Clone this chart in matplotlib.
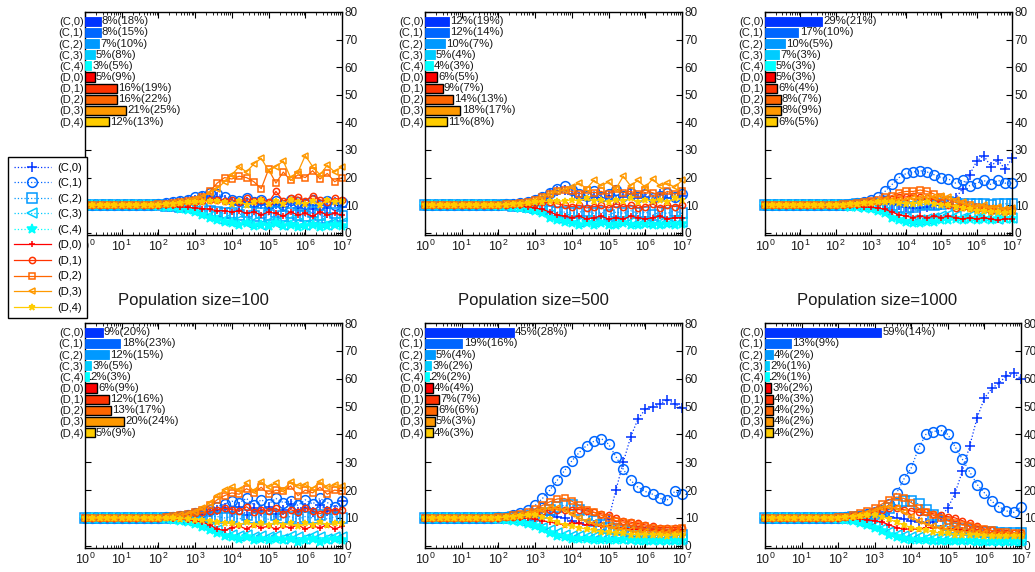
import numpy as np
import matplotlib
matplotlib.use("Agg")
import matplotlib.pyplot as plt
from matplotlib.lines import Line2D
from matplotlib.ticker import LogLocator, NullFormatter, MultipleLocator

plt.rcParams['font.family'] = ['Liberation Sans', 'DejaVu Sans']
plt.rcParams['mathtext.default'] = 'regular'

W, H = 1035, 572

# ---------------- data ----------------
STRATEGIES = ['(C,0)', '(C,1)', '(C,2)', '(C,3)', '(C,4)',
              '(D,0)', '(D,1)', '(D,2)', '(D,3)', '(D,4)']
COLORS = ['#0033ff', '#0066ff', '#0099ff', '#00ccff', '#00ffff',
          '#ff0000', '#ff3300', '#ff6600', '#ff9900', '#ffcc00']
MARKERS = ['+', 'o', 's', '<', '*', '+', 'o', 's', '<', '*']
TITLES = ['Population size=100', 'Population size=500', 'Population size=1000']

# generation exponents: 10^0 ... 10^7
LOG_GEN = np.linspace(0, 7, 36)

TOP_100 = [
    [10, 10, 10, 10, 10, 10, 10, 10, 10, 10, 10.3, 10.6, 10.9, 11.2, 11.6, 12.0, 12.8, 13.5, 13.0, 12.0, 11.0, 10.0, 11.0, 9.5, 10.5, 9.0, 10.5, 9.5, 11.0, 9.0, 10.0, 8.5, 10.0, 9.0, 11.0, 9.5],
    [10, 10, 10, 10, 10, 10, 10, 10, 10, 10, 10.3, 10.7, 11.0, 11.5, 12.0, 12.8, 13.5, 14.5, 14.0, 13.0, 12.0, 11.5, 12.5, 11.0, 12.0, 10.5, 11.5, 10.0, 12.0, 11.0, 10.5, 12.0, 10.0, 11.5, 10.0, 11.0],
    [10, 10, 10, 10, 10, 10, 10, 10, 10, 10, 10.0, 9.8, 9.6, 9.5, 9.2, 9.0, 8.5, 8.0, 7.5, 7.0, 7.0, 6.5, 7.5, 6.0, 7.0, 6.5, 7.5, 6.0, 7.0, 6.5, 6.0, 7.5, 6.5, 5.5, 7.0, 6.0],
    [10, 10, 10, 10, 10, 10, 10, 10, 10, 10, 9.8, 9.6, 9.4, 9.0, 8.5, 8.0, 7.0, 6.0, 5.0, 4.5, 4.0, 4.5, 3.5, 4.0, 3.0, 4.0, 3.5, 3.0, 4.5, 3.5, 3.0, 4.0, 3.5, 3.0, 4.0, 3.5],
    [10, 10, 10, 10, 10, 10, 10, 10, 10, 10, 9.7, 9.5, 9.2, 8.8, 8.3, 7.5, 6.5, 5.5, 4.5, 4.0, 3.5, 3.0, 3.5, 2.5, 3.0, 2.5, 3.5, 2.5, 3.0, 2.0, 2.5, 3.0, 2.0, 2.5, 3.0, 2.5],
    [10, 10, 10, 10, 10, 10, 10, 10, 10, 10, 10.0, 9.8, 9.6, 9.4, 9.2, 9.0, 8.8, 8.5, 8.0, 8.0, 7.5, 8.0, 7.0, 7.5, 6.5, 7.5, 7.0, 6.0, 7.5, 6.5, 7.0, 6.0, 7.5, 6.5, 7.0, 6.5],
    [10, 10, 10, 10, 10, 10, 10, 10, 10, 10, 10.2, 10.4, 10.6, 10.8, 11.0, 11.2, 11.5, 11.8, 12.0, 11.5, 12.0, 11.0, 12.5, 11.5, 12.0, 11.0, 15.0, 11.5, 12.5, 13.0, 11.5, 13.5, 12.0, 11.0, 12.5, 12.0],
    [10, 10, 10, 10, 10, 10, 10, 10, 10, 10, 10.3, 10.6, 10.9, 11.2, 11.6, 12.0, 13.0, 15.0, 18.0, 20.0, 19.5, 20.5, 20.0, 18.5, 16.0, 23.0, 18.0, 22.0, 19.0, 21.0, 20.0, 22.5, 19.5, 21.5, 18.5, 20.0],
    [10, 10, 10, 10, 10, 10, 10, 10, 10, 10, 10.3, 10.6, 10.9, 11.3, 11.7, 12.2, 13.0, 14.5, 16.0, 18.5, 21.0, 24.0, 22.0, 25.0, 27.0, 22.5, 24.0, 26.0, 20.0, 22.0, 28.0, 24.0, 21.0, 24.5, 22.0, 24.0],
    [10, 10, 10, 10, 10, 10, 10, 10, 10, 10, 10.2, 10.4, 10.6, 10.8, 11.0, 11.0, 11.2, 11.5, 11.5, 11.0, 10.5, 11.5, 10.0, 11.0, 12.0, 10.5, 11.5, 10.5, 12.0, 11.0, 10.5, 11.5, 10.0, 12.0, 11.0, 11.5],
]

TOP_500 = [
    [10, 10, 10, 10, 10, 10, 10, 10, 10, 10, 10.1, 10.3, 10.5, 10.7, 11.0, 11.5, 12.5, 14.0, 15.0, 15.5, 14.0, 13.0, 12.0, 13.0, 12.5, 13.5, 12.0, 13.0, 14.0, 12.5, 13.0, 12.0, 14.0, 12.5, 13.0, 13.5],
    [10, 10, 10, 10, 10, 10, 10, 10, 10, 10, 10.1, 10.3, 10.5, 10.8, 11.2, 11.8, 13.0, 14.5, 16.0, 17.0, 15.5, 14.0, 13.5, 15.0, 13.0, 14.0, 15.5, 13.5, 14.5, 13.0, 14.0, 12.5, 13.5, 14.5, 13.0, 14.0],
    [10, 10, 10, 10, 10, 10, 10, 10, 10, 10, 10.0, 9.9, 9.8, 9.6, 9.4, 9.0, 8.5, 8.0, 7.5, 7.5, 7.0, 7.5, 8.0, 7.0, 7.5, 6.5, 7.5, 7.0, 8.0, 7.0, 7.5, 6.5, 7.5, 7.0, 8.0, 7.0],
    [10, 10, 10, 10, 10, 10, 10, 10, 10, 10, 9.9, 9.7, 9.5, 9.2, 8.8, 8.3, 7.5, 6.5, 5.5, 5.0, 4.5, 4.0, 4.5, 4.0, 4.5, 3.5, 4.0, 4.5, 4.0, 3.5, 4.0, 4.5, 3.5, 4.0, 4.5, 4.0],
    [10, 10, 10, 10, 10, 10, 10, 10, 10, 10, 9.8, 9.6, 9.4, 9.0, 8.6, 8.0, 7.0, 5.5, 4.5, 3.8, 3.5, 3.0, 3.5, 3.0, 3.5, 2.8, 3.0, 3.5, 3.0, 2.8, 3.2, 3.0, 2.8, 3.2, 3.0, 3.2],
    [10, 10, 10, 10, 10, 10, 10, 10, 10, 10, 10.0, 9.9, 9.8, 9.6, 9.4, 9.0, 8.5, 7.5, 6.5, 6.0, 5.5, 6.0, 5.0, 5.5, 6.0, 5.0, 5.5, 5.0, 6.0, 5.5, 5.0, 5.5, 6.0, 5.0, 5.5, 5.5],
    [10, 10, 10, 10, 10, 10, 10, 10, 10, 10, 10.1, 10.2, 10.3, 10.5, 10.6, 10.8, 11.0, 11.0, 10.5, 10.0, 9.5, 10.0, 9.0, 9.5, 10.0, 9.0, 10.5, 9.5, 10.0, 9.0, 9.5, 10.5, 9.0, 10.0, 9.5, 10.0],
    [10, 10, 10, 10, 10, 10, 10, 10, 10, 10, 10.1, 10.3, 10.5, 10.8, 11.2, 11.8, 12.8, 14.0, 15.0, 15.5, 15.0, 14.0, 15.5, 14.5, 15.0, 14.0, 16.0, 14.5, 15.0, 14.0, 15.5, 14.5, 13.5, 15.0, 14.0, 15.0],
    [10, 10, 10, 10, 10, 10, 10, 10, 10, 10, 10.1, 10.3, 10.5, 10.8, 11.2, 11.8, 12.8, 14.0, 15.0, 15.5, 16.5, 18.0, 16.0, 19.0, 17.0, 18.5, 16.0, 20.5, 17.0, 19.0, 16.5, 19.5, 17.0, 18.0, 16.5, 19.0],
    [10, 10, 10, 10, 10, 10, 10, 10, 10, 10, 10.1, 10.2, 10.4, 10.6, 10.8, 11.0, 11.3, 11.5, 11.5, 11.5, 12.0, 11.5, 12.5, 11.5, 12.0, 11.0, 12.0, 11.5, 12.5, 11.0, 12.0, 11.5, 12.0, 11.0, 12.5, 12.0],
]

TOP_1000 = [
    [10, 10, 10, 10, 10, 10, 10, 10, 10, 10, 10.0, 10.0, 10.1, 10.2, 10.3, 10.4, 10.5, 10.5, 10.3, 10.0, 9.5, 9.0, 9.0, 9.5, 10.0, 10.0, 10.5, 12.5, 16.0, 21.0, 26.0, 28.0, 24.0, 26.5, 23.0, 27.0],
    [10, 10, 10, 10, 10, 10, 10, 10, 10, 10, 10.1, 10.2, 10.4, 10.7, 11.2, 12.0, 13.0, 15.0, 17.5, 20.0, 21.5, 22.0, 22.5, 22.0, 21.0, 20.0, 19.5, 18.0, 19.0, 17.0, 18.0, 19.0, 17.5, 19.0, 18.0, 18.0],
    [10, 10, 10, 10, 10, 10, 10, 10, 10, 10, 10.0, 10.1, 10.2, 10.3, 10.4, 10.5, 10.5, 10.3, 10.0, 9.5, 9.0, 9.5, 10.0, 10.5, 10.0, 10.5, 11.0, 10.5, 10.5, 10.5, 10.5, 10.5, 10.0, 10.5, 10.5, 10.5],
    [10, 10, 10, 10, 10, 10, 10, 10, 10, 10, 9.9, 9.8, 9.6, 9.4, 9.2, 9.0, 8.5, 7.5, 6.5, 5.5, 5.0, 4.5, 4.5, 5.0, 5.5, 6.0, 6.5, 6.0, 5.5, 6.0, 5.5, 6.0, 5.5, 5.0, 5.5, 5.5],
    [10, 10, 10, 10, 10, 10, 10, 10, 10, 10, 9.9, 9.7, 9.5, 9.2, 8.9, 8.5, 8.0, 7.0, 5.5, 4.5, 4.0, 3.5, 3.5, 4.0, 4.0, 4.5, 4.5, 5.0, 4.5, 5.0, 4.5, 5.0, 4.5, 5.0, 5.0, 5.0],
    [10, 10, 10, 10, 10, 10, 10, 10, 10, 10, 10.0, 9.9, 9.8, 9.6, 9.4, 9.2, 9.0, 8.5, 7.5, 6.5, 6.0, 5.5, 6.0, 5.5, 6.0, 5.5, 6.0, 5.5, 5.0, 5.5, 5.0, 5.5, 5.0, 4.5, 5.0, 5.0],
    [10, 10, 10, 10, 10, 10, 10, 10, 10, 10, 10.1, 10.2, 10.4, 10.6, 10.8, 11.0, 11.3, 11.8, 12.3, 12.8, 13.0, 13.5, 13.0, 12.5, 12.0, 11.0, 10.0, 9.0, 9.5, 9.0, 8.5, 9.0, 8.0, 8.5, 8.0, 8.5],
    [10, 10, 10, 10, 10, 10, 10, 10, 10, 10, 10.1, 10.3, 10.5, 10.8, 11.2, 11.6, 12.0, 12.8, 13.5, 14.5, 15.0, 15.0, 15.5, 15.0, 14.0, 13.0, 12.0, 11.0, 10.5, 10.0, 9.5, 9.0, 8.5, 8.5, 8.0, 8.0],
    [10, 10, 10, 10, 10, 10, 10, 10, 10, 10, 10.1, 10.2, 10.4, 10.6, 10.9, 11.2, 11.5, 11.8, 12.0, 12.0, 12.0, 12.5, 12.5, 13.0, 13.0, 13.5, 13.0, 12.0, 11.0, 10.0, 9.5, 10.0, 9.0, 9.5, 8.5, 9.0],
    [10, 10, 10, 10, 10, 10, 10, 10, 10, 10, 10.1, 10.2, 10.3, 10.5, 10.7, 10.9, 11.0, 11.0, 11.0, 10.8, 10.5, 10.5, 10.8, 11.0, 10.5, 10.0, 10.0, 9.5, 9.0, 8.5, 8.0, 8.0, 7.5, 7.5, 7.0, 7.5],
]

BOT_100 = [
    [10, 10, 10, 10, 10, 10, 10, 10, 10, 10, 10.1, 10.2, 10.4, 10.6, 10.9, 11.2, 11.5, 12.0, 13.0, 13.5, 12.0, 14.0, 11.0, 13.5, 12.5, 14.0, 11.5, 13.0, 15.0, 12.0, 13.5, 12.0, 14.5, 12.5, 13.0, 16.0],
    [10, 10, 10, 10, 10, 10, 10, 10, 10, 10, 10.1, 10.3, 10.5, 10.8, 11.2, 11.6, 12.2, 13.0, 14.0, 15.0, 16.0, 15.5, 17.0, 14.5, 16.5, 15.0, 17.0, 15.5, 16.0, 14.5, 16.5, 15.0, 17.0, 15.5, 14.0, 16.0],
    [10, 10, 10, 10, 10, 10, 10, 10, 10, 10, 10.0, 10.0, 10.0, 10.1, 10.2, 10.3, 10.5, 10.5, 10.5, 10.0, 10.5, 9.5, 11.0, 10.0, 10.5, 9.5, 11.0, 10.0, 10.5, 9.5, 10.5, 10.0, 11.0, 9.5, 10.5, 10.0],
    [10, 10, 10, 10, 10, 10, 10, 10, 10, 10, 9.9, 9.8, 9.6, 9.3, 9.0, 8.5, 7.5, 6.5, 5.5, 4.5, 4.0, 3.5, 4.0, 3.0, 3.5, 3.0, 3.5, 2.5, 3.5, 3.0, 2.5, 3.5, 3.0, 2.5, 3.0, 3.0],
    [10, 10, 10, 10, 10, 10, 10, 10, 10, 10, 9.8, 9.6, 9.3, 9.0, 8.5, 7.8, 6.8, 5.5, 4.5, 3.5, 3.0, 2.5, 3.0, 2.0, 2.5, 2.0, 2.5, 2.0, 2.5, 1.5, 2.0, 2.5, 1.5, 2.0, 2.5, 2.0],
    [10, 10, 10, 10, 10, 10, 10, 10, 10, 10, 10.0, 9.9, 9.7, 9.5, 9.3, 9.0, 8.5, 7.5, 6.0, 5.5, 6.5, 7.0, 6.0, 7.5, 6.5, 7.0, 6.0, 7.0, 6.5, 7.5, 6.0, 7.0, 6.5, 7.5, 6.0, 7.0],
    [10, 10, 10, 10, 10, 10, 10, 10, 10, 10, 10.1, 10.3, 10.5, 10.8, 11.2, 11.6, 12.0, 12.5, 13.0, 13.5, 13.0, 12.5, 14.0, 12.0, 13.0, 12.5, 13.5, 11.5, 13.0, 12.0, 13.5, 12.5, 11.5, 13.0, 12.5, 13.0],
    [10, 10, 10, 10, 10, 10, 10, 10, 10, 10, 10.1, 10.3, 10.6, 11.0, 11.5, 12.0, 13.0, 14.5, 16.5, 18.0, 19.0, 18.5, 20.5, 19.0, 21.0, 18.5, 20.0, 19.5, 21.5, 18.0, 20.0, 19.0, 21.0, 18.5, 20.0, 19.5],
    [10, 10, 10, 10, 10, 10, 10, 10, 10, 10, 10.1, 10.3, 10.6, 11.0, 11.5, 12.2, 13.5, 15.5, 18.0, 20.0, 21.0, 20.0, 22.5, 19.5, 23.0, 21.0, 22.5, 20.0, 23.0, 21.5, 22.0, 20.5, 23.0, 21.0, 22.0, 21.5],
    [10, 10, 10, 10, 10, 10, 10, 10, 10, 10, 10.0, 9.9, 9.8, 9.7, 9.6, 9.4, 9.2, 8.8, 8.5, 8.2, 8.0, 7.5, 8.5, 7.5, 8.0, 7.5, 8.5, 7.5, 8.0, 7.0, 8.0, 7.5, 8.5, 7.5, 8.0, 8.0],
]

BOT_500 = [
    [10, 10, 10, 10, 10, 10, 10, 10, 10, 10, 10.0, 10.1, 10.2, 10.3, 10.5, 10.8, 11.0, 11.0, 10.5, 10.0, 9.0, 8.0, 7.5, 7.5, 8.0, 9.5, 20.0, 30.0, 39.0, 45.5, 49.0, 50.0, 51.0, 52.5, 51.0, 49.5],
    [10, 10, 10, 10, 10, 10, 10, 10, 10, 10, 10.2, 10.5, 11.0, 11.8, 13.0, 14.5, 17.0, 20.0, 23.5, 27.0, 30.5, 33.5, 36.0, 37.5, 38.5, 36.5, 32.0, 27.5, 23.5, 21.0, 19.5, 18.5, 17.0, 16.5, 19.5, 18.5],
    [10, 10, 10, 10, 10, 10, 10, 10, 10, 10, 10.0, 10.1, 10.2, 10.4, 10.7, 11.0, 11.8, 13.0, 14.0, 14.5, 14.5, 13.0, 11.0, 9.0, 7.5, 6.5, 6.0, 5.5, 5.0, 5.0, 4.5, 4.5, 4.5, 4.0, 4.0, 4.0],
    [10, 10, 10, 10, 10, 10, 10, 10, 10, 10, 9.8, 9.5, 9.2, 8.8, 8.2, 7.5, 6.5, 5.5, 4.5, 4.0, 3.5, 3.5, 3.0, 3.0, 3.0, 3.0, 3.0, 2.5, 2.5, 2.5, 2.5, 2.5, 2.5, 2.5, 2.5, 2.5],
    [10, 10, 10, 10, 10, 10, 10, 10, 10, 10, 9.7, 9.4, 9.0, 8.5, 7.8, 7.0, 6.0, 4.5, 3.5, 3.0, 2.5, 2.5, 2.5, 2.0, 2.0, 2.0, 2.0, 2.0, 2.0, 1.8, 1.8, 1.8, 1.8, 1.8, 1.8, 1.8],
    [10, 10, 10, 10, 10, 10, 10, 10, 10, 10, 10.0, 10.0, 10.0, 9.9, 9.8, 9.5, 9.0, 8.5, 8.0, 7.5, 8.0, 8.0, 7.5, 7.5, 7.0, 7.0, 6.5, 6.5, 6.0, 6.0, 5.5, 5.5, 5.5, 5.0, 5.5, 5.5],
    [10, 10, 10, 10, 10, 10, 10, 10, 10, 10, 10.1, 10.3, 10.5, 10.8, 11.2, 11.8, 12.3, 12.8, 13.0, 13.0, 13.0, 13.0, 12.5, 12.0, 11.5, 11.0, 10.0, 9.0, 8.5, 8.0, 7.5, 7.0, 6.5, 6.5, 6.5, 6.5],
    [10, 10, 10, 10, 10, 10, 10, 10, 10, 10, 10.2, 10.5, 10.9, 11.5, 12.3, 13.3, 14.5, 15.8, 16.8, 17.0, 16.0, 14.5, 13.0, 12.0, 11.0, 10.0, 9.0, 8.5, 8.0, 7.5, 7.0, 6.5, 6.0, 6.0, 6.0, 6.5],
    [10, 10, 10, 10, 10, 10, 10, 10, 10, 10, 10.1, 10.4, 10.7, 11.0, 11.5, 12.0, 12.8, 13.5, 13.5, 13.0, 11.5, 10.0, 9.0, 8.0, 7.5, 7.0, 6.5, 6.0, 5.5, 5.0, 5.0, 4.5, 4.5, 4.5, 4.5, 4.5],
    [10, 10, 10, 10, 10, 10, 10, 10, 10, 10, 10.1, 10.3, 10.5, 10.8, 11.0, 11.0, 10.5, 9.5, 8.5, 7.5, 7.0, 6.5, 6.0, 5.5, 5.0, 5.0, 4.5, 4.5, 4.0, 4.0, 4.0, 4.0, 4.0, 3.5, 4.0, 4.0],
]

BOT_1000 = [
    [10, 10, 10, 10, 10, 10, 10, 10, 10, 10, 10.0, 10.1, 10.2, 10.3, 10.5, 10.7, 10.8, 10.5, 10.0, 9.5, 9.0, 8.5, 8.0, 8.5, 10.5, 13.5, 19.0, 27.0, 36.0, 46.0, 53.0, 56.5, 58.5, 61.0, 62.0, 60.0],
    [10, 10, 10, 10, 10, 10, 10, 10, 10, 10, 10.1, 10.3, 10.5, 10.8, 11.3, 12.0, 13.0, 15.0, 19.0, 24.0, 28.0, 35.0, 40.0, 41.0, 41.5, 40.0, 35.5, 31.0, 26.5, 22.0, 19.0, 16.0, 14.0, 12.5, 12.0, 14.0],
    [10, 10, 10, 10, 10, 10, 10, 10, 10, 10, 10.0, 10.1, 10.3, 10.5, 10.8, 11.3, 12.0, 13.5, 15.0, 16.0, 16.0, 15.0, 13.0, 11.0, 9.0, 7.5, 6.5, 6.0, 5.5, 5.0, 5.0, 5.0, 4.5, 4.5, 4.5, 4.5],
    [10, 10, 10, 10, 10, 10, 10, 10, 10, 10, 9.8, 9.5, 9.1, 8.6, 7.9, 7.0, 6.0, 5.0, 4.0, 3.5, 3.0, 3.0, 2.5, 2.5, 2.5, 2.5, 2.5, 2.5, 2.0, 2.0, 2.0, 2.0, 2.0, 2.0, 2.0, 2.0],
    [10, 10, 10, 10, 10, 10, 10, 10, 10, 10, 9.7, 9.3, 8.8, 8.2, 7.4, 6.5, 5.3, 4.0, 3.0, 2.5, 2.2, 2.0, 2.0, 1.8, 1.8, 1.8, 1.8, 1.8, 1.8, 1.5, 1.5, 1.5, 1.5, 1.5, 1.5, 1.5],
    [10, 10, 10, 10, 10, 10, 10, 10, 10, 10, 10.0, 9.9, 9.8, 9.6, 9.3, 9.0, 8.5, 7.5, 6.5, 6.0, 6.0, 6.0, 6.5, 6.5, 6.5, 6.0, 6.0, 5.5, 5.5, 5.0, 5.0, 4.5, 4.5, 4.5, 4.0, 4.0],
    [10, 10, 10, 10, 10, 10, 10, 10, 10, 10, 10.1, 10.3, 10.6, 11.0, 11.5, 12.2, 13.0, 13.5, 13.5, 13.0, 12.5, 12.0, 12.0, 11.5, 11.0, 10.5, 10.0, 9.0, 8.0, 7.0, 6.0, 5.5, 5.0, 4.5, 4.5, 4.5],
    [10, 10, 10, 10, 10, 10, 10, 10, 10, 10, 10.2, 10.5, 11.0, 11.6, 12.5, 13.5, 15.0, 16.5, 17.5, 17.0, 15.5, 13.5, 12.0, 11.0, 10.0, 9.0, 8.0, 7.5, 7.0, 6.5, 6.0, 5.5, 5.0, 5.0, 4.5, 4.5],
    [10, 10, 10, 10, 10, 10, 10, 10, 10, 10, 10.1, 10.4, 10.8, 11.2, 11.8, 12.5, 13.5, 14.0, 13.5, 12.0, 10.5, 9.0, 8.0, 7.0, 6.5, 6.0, 5.5, 5.0, 5.0, 4.5, 4.5, 4.0, 4.0, 4.0, 4.0, 4.0],
    [10, 10, 10, 10, 10, 10, 10, 10, 10, 10, 10.1, 10.3, 10.5, 10.8, 11.0, 11.0, 10.5, 9.5, 8.5, 7.5, 6.5, 6.0, 5.5, 5.0, 4.5, 4.5, 4.0, 4.0, 4.0, 4.0, 3.5, 3.5, 3.5, 3.5, 3.5, 3.5],
]

# bar insets: share (%) and value in parentheses (%)
BAR_TOP_100 = [8, 8, 7, 5, 3, 5, 16, 16, 21, 12]
PAR_TOP_100 = [18, 15, 10, 8, 5, 9, 19, 22, 25, 13]
BAR_TOP_500 = [12, 12, 10, 5, 4, 6, 9, 14, 18, 11]
PAR_TOP_500 = [19, 14, 7, 4, 3, 5, 7, 13, 17, 8]
BAR_TOP_1000 = [29, 17, 10, 7, 5, 5, 6, 8, 8, 6]
PAR_TOP_1000 = [21, 10, 5, 3, 3, 3, 4, 7, 9, 5]
BAR_BOT_100 = [9, 18, 12, 3, 2, 6, 12, 13, 20, 5]
PAR_BOT_100 = [20, 23, 15, 5, 3, 9, 16, 17, 24, 9]
BAR_BOT_500 = [45, 19, 5, 3, 2, 4, 7, 6, 5, 4]
PAR_BOT_500 = [28, 16, 4, 2, 2, 4, 7, 6, 3, 3]
BAR_BOT_1000 = [59, 13, 4, 2, 2, 3, 4, 4, 4, 4]
PAR_BOT_1000 = [14, 9, 2, 1, 1, 2, 3, 2, 2, 2]

# ---------------- layout (pixels) ----------------
def rect(l, t, r, b):
    return [l / W, 1 - b / H, (r - l) / W, (b - t) / H]

PANELS = [
    ((85, 12, 342, 235), TOP_100, BAR_TOP_100, PAR_TOP_100),
    ((425, 12, 682, 235), TOP_500, BAR_TOP_500, PAR_TOP_500),
    ((765, 12, 1012, 235), TOP_1000, BAR_TOP_1000, PAR_TOP_1000),
    ((85, 323, 342, 548), BOT_100, BAR_BOT_100, PAR_BOT_100),
    ((425, 323, 682, 548), BOT_500, BAR_BOT_500, PAR_BOT_500),
    ((765, 323, 1021, 548), BOT_1000, BAR_BOT_1000, PAR_BOT_1000),
]

PX_PER_PCT = 1.97
ROW_PX = 11.15
FIRST_ROW_PX = 9.3
TXT = '#1a1a1a'

fig = plt.figure(figsize=(W / 100, H / 100), dpi=100)
gens = 10 ** LOG_GEN


def style_for(k):
    is_c = k < 5
    m = MARKERS[k]
    open_marker = m in ('o', 's', '<')
    return dict(
        color=COLORS[k],
        linestyle=':' if is_c else '-',
        linewidth=0.9,
        marker=m,
        markersize=7 if is_c else 4.5,
        markeredgewidth=1.1,
        markerfacecolor='none' if open_marker else COLORS[k],
    )


for (l, t, r, b), series, bars, pars in PANELS:
    for s in series:
        assert len(s) == len(LOG_GEN)
    ax = fig.add_axes(rect(l, t, r, b))
    for k, s in enumerate(series):
        ax.plot(gens, s, clip_on=False, **style_for(k))
    ax.set_xscale('log')
    ax.set_xlim(1, 1e7)
    ax.set_ylim(-0.8, 80)
    ax.xaxis.set_major_locator(LogLocator(base=10, numticks=10))
    ax.xaxis.set_minor_locator(LogLocator(base=10, subs=np.arange(2, 10), numticks=20))
    ax.xaxis.set_minor_formatter(NullFormatter())
    ax.yaxis.set_major_locator(MultipleLocator(10))
    ax.yaxis.tick_right()
    ax.tick_params(axis='both', which='both', direction='in', top=True, bottom=True,
                   left=True, right=True, labelcolor=TXT)
    ax.tick_params(axis='y', labelsize=8.5)
    ax.tick_params(axis='x', labelsize=9)
    ax.tick_params(axis='both', which='major', length=4, width=0.8)
    ax.tick_params(axis='x', which='minor', length=2, width=0.6)
    ax.tick_params(axis='x', which='major', pad=3)
    ax.tick_params(axis='y', which='major', pad=2)
    for sp in ax.spines.values():
        sp.set_linewidth(1.0)

    # bar inset
    n_rows = 11
    bh = n_rows * ROW_PX
    bax = fig.add_axes(rect(l, t, r, t + bh))
    bax.patch.set_alpha(0)
    bax.set_xlim(0, (r - l) / PX_PER_PCT)
    top_off = FIRST_ROW_PX / ROW_PX
    bax.set_ylim(n_rows - top_off, -top_off)
    ypos = np.arange(len(STRATEGIES))
    for k in range(len(STRATEGIES)):
        if k < 5:
            bax.barh(ypos[k], bars[k], height=0.82, color=COLORS[k], edgecolor=COLORS[k],
                     linewidth=0.6, align='center')
        else:
            bax.barh(ypos[k], bars[k], height=0.82, color=COLORS[k], edgecolor='black',
                     linewidth=1.0, align='center')
        bax.text(bars[k] + 0.6, ypos[k], f'{bars[k]}%({pars[k]}%)', va='center', ha='left',
                 fontsize=8.2, color=TXT)
    bax.set_yticks(ypos)
    bax.set_yticklabels(STRATEGIES, fontsize=8, color=TXT)
    bax.tick_params(axis='y', length=0, pad=1)
    bax.set_xticks([])
    for sp in bax.spines.values():
        sp.set_visible(False)

# column titles
for txt, cx in zip(TITLES, [193, 533, 877]):
    fig.text(cx / W, 1 - 300 / H, txt, ha='center', va='center', fontsize=12, color=TXT)

# legend
handles = [Line2D([], [], **style_for(k)) for k in range(len(STRATEGIES))]
leg = fig.legend(handles, STRATEGIES, loc='upper left', bbox_to_anchor=(8 / W, 1 - 157 / H),
                 borderaxespad=0, fontsize=8, numpoints=1, handlelength=3.4,
                 labelspacing=0.5, handletextpad=0.5, borderpad=0.5, fancybox=False,
                 framealpha=1, edgecolor='black')
leg.get_frame().set_linewidth(1.0)
leg.set_zorder(10)

fig.savefig('out.png', dpi=100)
